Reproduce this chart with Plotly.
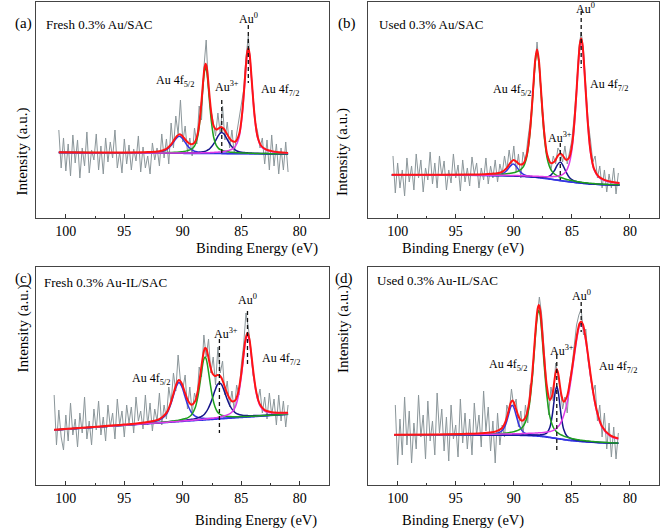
import plotly.graph_objects as go

FONT = "Liberation Serif, Times New Roman, serif"

PANEL_LETTERS = ["(a)", "(b)", "(c)", "(d)"]
PANEL_TITLES = ["Fresh 0.3% Au/SAC", "Used 0.3% Au/SAC", "Fresh 0.3% Au-IL/SAC", "Used 0.3% Au-IL/SAC"]
TICKS = [100, 95, 90, 85, 80]
MINOR_TICKS = [97.5, 92.5, 87.5, 82.5]
LBL_52 = "Au 4f<sub>5/2</sub>"
LBL_72 = "Au 4f<sub>7/2</sub>"
LBL_AU3 = "Au<sup>3+</sup>"
LBL_AU0 = "Au<sup>0</sup>"

# ---------------- raw (measured) spectra, binding energy in eV ----------------
E_RAW = [101.0, 100.8, 100.6, 100.4, 100.2, 100.0, 99.8, 99.6, 99.4, 99.2,
         99.0, 98.8, 98.6, 98.4, 98.2, 98.0, 97.8, 97.6, 97.4, 97.2,
         97.0, 96.8, 96.6, 96.4, 96.2, 96.0, 95.8, 95.6, 95.4, 95.2,
         95.0, 94.8, 94.6, 94.4, 94.2, 94.0, 93.8, 93.6, 93.4, 93.2,
         93.0, 92.8, 92.6, 92.4, 92.2, 92.0, 91.8, 91.6, 91.4, 91.2,
         91.0, 90.8, 90.6, 90.4, 90.2, 90.0, 89.8, 89.6, 89.4, 89.2,
         89.0, 88.8, 88.6, 88.4, 88.2, 88.0, 87.8, 87.6, 87.4, 87.2,
         87.0, 86.8, 86.6, 86.4, 86.2, 86.0, 85.8, 85.6, 85.4, 85.2,
         85.0, 84.8, 84.6, 84.4, 84.2, 84.0, 83.8, 83.6, 83.4, 83.2,
         83.0, 82.8, 82.6, 82.4, 82.2, 82.0, 81.8, 81.6, 81.4, 81.2,
         81.0]

RAW_A = [None, None, 88, 50, 80, 47, 74, 42, 83, 55,
         78, 40, 70, 52, 86, 45, 68, 58, 84, 48,
         72, 44, 80, 56, 76, 60, 88, 50, 66, 45,
         79, 54, 73, 48, 69, 57, 82, 46, 71, 50,
         62, 44, 75, 58, 70, 52, 84, 60, 79, 54,
         95, 70, 102, 84, 118, 76, 92, 66, 80, 62,
         90, 74, 112, 98, 150, 178, 128, 108, 96, 82,
         105, 84, 112, 78, 96, 70, 88, 64, 84, 98,
         112, 128, 160, 182, 150, 118, 96, 86, 70, 80,
         54, 78, 48, 83, 52, 74, 44, 70, 48, 76,
         46]

RAW_B = [None, None, None, 62, 25, 55, 30, 48, 22, 60,
         36, 52, 28, 64, 40, 58, 26, 50, 38, 66,
         34, 55, 30, 62, 42, 57, 28, 48, 35, 64,
         40, 53, 27, 58, 36, 50, 32, 61, 44, 55,
         30, 50, 38, 60, 34, 52, 40, 58, 36, 54,
         44, 62, 48, 68, 52, 72, 46, 64, 40, 66,
         56, 78, 95, 118, 150, 176, 150, 118, 92, 66,
         60, 48, 62, 54, 70, 66, 56, 72, 54, 66,
         78, 102, 130, 170, 186, 168, 130, 96, 78, 56,
         62, 40, 52, 30, 48, 26, 44, 30, 50, 24,
         45]

RAW_C = [90, 40, 75, 48, 35, 70, 44, 82, 50, 66,
         38, 72, 52, 88, 46, 64, 40, 76, 55, 84,
         50, 68, 44, 80, 58, 72, 46, 86, 60, 74,
         48, 80, 62, 78, 52, 88, 64, 74, 56, 90,
         60, 82, 54, 76, 64, 92, 60, 80, 66, 98,
         82, 112, 94, 130, 104, 96, 110, 76, 98, 72,
         92, 84, 118, 108, 150, 128, 146, 112, 128, 100,
         138, 112, 124, 90, 104, 78, 94, 74, 100, 90,
         120, 140, 172, 158, 138, 110, 100, 84, 96, 72,
         88, 66, 92, 70, 86, 60, 90, 64, 84, 58,
         80]

RAW_D = [None, None, None, None, 80, 20, 66, 30, 88, 40,
         74, 22, 62, 36, 90, 48, 70, 26, 84, 44,
         64, 30, 92, 52, 76, 34, 68, 24, 80, 46,
         60, 28, 86, 42, 72, 36, 66, 30, 82, 50,
         70, 38, 94, 54, 78, 34, 64, 22, 72, 40,
         60, 48, 80, 72, 96, 78, 86, 58, 74, 50,
         80, 62, 100, 104, 146, 168, 188, 170, 132, 104,
         70, 98, 84, 122, 110, 96, 76, 88, 72, 104,
         118, 140, 160, 170, 176, 150, 156, 124, 110, 92,
         100, 64, 80, 48, 72, 36, 62, 28, 58, 26,
         52]

# ---------------- fitted curves (heights above background) ----------------
# panel (a)
FIT_E_A = [100.6, 98, 95, 93, 92, 91.4, 91.0, 90.7, 90.5, 90.3, 90.1, 89.9, 89.6, 89.3, 89.0,
           88.75, 88.55, 88.4, 88.25, 88.15, 88.05, 87.95, 87.85, 87.7, 87.55, 87.35, 87.15,
           86.95, 86.8, 86.67, 86.5, 86.3, 86.05, 85.8, 85.5, 85.2, 84.95, 84.75, 84.6, 84.5,
           84.4, 84.3, 84.2, 84.05, 83.85, 83.6, 83.3, 82.9, 82.4, 81.8, 81.0]
BG_A = [65.5, 65.3, 65.05, 64.9, 64.8, 64.8, 64.75, 64.7, 64.7, 64.7, 64.7, 64.65, 64.65, 64.6, 64.6,
        64.6, 64.55, 64.55, 64.55, 64.5, 64.5, 64.5, 64.5, 64.5, 64.5, 64.5, 64.45,
        64.45, 64.45, 64.4, 64.4, 64.4, 64.4, 64.35, 64.35, 64.3, 64.3, 64.3, 64.3, 64.3,
        64.3, 64.25, 64.25, 64.25, 64.2, 64.2, 64.2, 64.15, 64.1, 64.05, 64.0]
AU3_52_A = [0.03, 0.06, 0.13, 0.46, 1.15, 3.4, 7.7, 12.7, 15.7, 17, 15.7, 12.7, 7.7, 4.2, 2.2,
            1.45, 1.1, 0.92, 0.78, 0.72, 0.65, 0.6, 0.56, 0.5, 0.45, 0.39, 0.35,
            0.31, 0.28, 0.26, 0.24, 0.22, 0.19, 0.17, 0.15, 0.14, 0.12, 0.12, 0.11, 0.11,
            0.1, 0.1, 0.1, 0.09, 0.085, 0.08, 0.07, 0.065, 0.057, 0.05, 0.04]
AU3_72_A = [0.02, 0.03, 0.06, 0.11, 0.15, 0.19, 0.23, 0.27, 0.29, 0.33, 0.36, 0.41, 0.49, 0.6, 0.76,
            0.95, 1.15, 1.38, 1.7, 2.0, 2.37, 2.84, 3.5, 4.8, 6.65, 9.9, 14.0,
            18.1, 20.3, 21, 19.8, 16.3, 11.1, 6.8, 3.6, 2.0, 1.4, 1.1, 0.95, 0.86,
            0.8, 0.74, 0.68, 0.6, 0.53, 0.45, 0.38, 0.3, 0.24, 0.18, 0.14]
AU0_52_A = [0.04, 0.07, 0.14, 0.28, 0.44, 0.6, 0.78, 0.96, 1.12, 1.32, 1.58, 1.92, 2.7, 4.0, 7.3,
            15.7, 31.3, 49.6, 70.6, 81.7, 86, 81.7, 70.6, 49.6, 31.3, 15.7, 8.4,
            5.2, 4.0, 3.4, 2.7, 2.1, 1.65, 1.32, 1.03, 0.83, 0.7, 0.62, 0.57, 0.54,
            0.51, 0.48, 0.46, 0.43, 0.39, 0.34, 0.3, 0.26, 0.21, 0.18, 0.14]
AU0_72_A = [0.03, 0.05, 0.08, 0.13, 0.16, 0.19, 0.21, 0.23, 0.25, 0.27, 0.29, 0.31, 0.35, 0.39, 0.44,
            0.49, 0.54, 0.59, 0.63, 0.66, 0.7, 0.74, 0.79, 0.86, 0.95, 1.08, 1.24,
            1.45, 1.6, 1.8, 2.1, 2.5, 3.2, 4.4, 7.3, 15.9, 35.7, 63.4, 87.2, 99.3,
            104, 99.3, 87.2, 63.4, 35.7, 15.9, 7.3, 3.9, 2.25, 1.35, 0.8]

# panel (b)
FIT_E_B = [100.5, 97, 94, 92.5, 91.6, 91.0, 90.6, 90.3, 90.05, 89.8, 89.5, 89.2, 88.9, 88.65, 88.45,
           88.3, 88.15, 88.0, 87.85, 87.7, 87.55, 87.35, 87.1, 86.8, 86.5, 86.25, 86.0, 85.75,
           85.5, 85.25, 85.0, 84.8, 84.6, 84.45, 84.3, 84.2, 84.1, 83.95, 83.8, 83.6, 83.4,
           83.1, 82.7, 82.2, 81.5, 80.9]
BG_B = [43, 43, 42.8, 42.6, 42.4, 42.3, 42.2, 42.1, 42, 41.9, 41.7, 41.5, 41.3, 41.1, 40.9,
        40.8, 40.7, 40.5, 40.3, 40.1, 39.9, 39.6, 39.2, 38.7, 38.2, 37.8, 37.4, 37.0,
        36.6, 36.2, 35.9, 35.6, 35.3, 35.1, 34.9, 34.8, 34.7, 34.5, 34.4, 34.2, 34.0,
        33.8, 33.5, 33.3, 33.1, 33.0]
AU3_52_B = [0.01, 0.03, 0.09, 0.24, 0.58, 1.8, 5.3, 9.8, 12, 9.8, 5.3, 2.4, 1.1, 0.71, 0.54,
            0.46, 0.39, 0.34, 0.29, 0.26, 0.23, 0.2, 0.17, 0.14, 0.12, 0.1, 0.09, 0.08,
            0.07, 0.065, 0.06, 0.055, 0.05, 0.05, 0.045, 0.045, 0.043, 0.04, 0.04, 0.036, 0.034,
            0.031, 0.028, 0.024, 0.02, 0.018]
AU3_72_B = [0.01, 0.02, 0.04, 0.05, 0.07, 0.09, 0.11, 0.12, 0.14, 0.16, 0.19, 0.22, 0.27, 0.32, 0.37,
            0.42, 0.48, 0.54, 0.63, 0.74, 0.89, 1.17, 1.9, 4.2, 9.25, 15.2, 18.5, 15.2,
            9.25, 4.8, 2.4, 1.54, 1.1, 0.89, 0.74, 0.67, 0.6, 0.52, 0.45, 0.38, 0.33,
            0.27, 0.21, 0.16, 0.11, 0.09]
AU0_52_B = [0.09, 0.17, 0.39, 0.69, 1.08, 1.54, 2.03, 2.58, 3.2, 4.1, 5.8, 9.3, 18.9, 39.1, 66.8,
            92.7, 116, 126, 116, 92.7, 66.8, 39.1, 18.9, 9.3, 5.8, 4.35, 3.4, 2.7,
            2.2, 1.83, 1.54, 1.36, 1.2, 1.1, 1.02, 0.97, 0.92, 0.86, 0.8, 0.72, 0.66,
            0.58, 0.5, 0.42, 0.34, 0.28]
AU0_72_B = [0.07, 0.11, 0.19, 0.26, 0.32, 0.38, 0.43, 0.48, 0.52, 0.57, 0.63, 0.71, 0.8, 0.89, 0.98,
            1.05, 1.13, 1.22, 1.32, 1.43, 1.56, 1.76, 2.07, 2.55, 3.2, 4.0, 5.15, 6.9,
            10.0, 17.2, 32.2, 55.6, 89.5, 117.3, 138.3, 143, 138.3, 117.3, 89.5, 55.6, 32.2,
            14.7, 7.3, 4.2, 2.4, 1.6]

# panel (c)
FIT_E_C = [101, 98, 95, 93, 92, 91.4, 91.0, 90.8, 90.55, 90.33, 90.1, 89.85, 89.55, 89.25, 88.95,
           88.7, 88.5, 88.35, 88.2, 88.1, 88.0, 87.85, 87.65, 87.45, 87.25, 87.05, 86.87, 86.7,
           86.5, 86.25, 86.0, 85.75, 85.5, 85.25, 85.0, 84.8, 84.65, 84.47, 84.3, 84.15, 83.95,
           83.7, 83.4, 83.0, 82.5, 81.8, 81.0]
BG_C = [55.0, 57.4, 59.7, 61.3, 62.1, 62.5, 62.9, 63.0, 63.2, 63.4, 63.6, 63.8, 64.0, 64.2, 64.5,
        64.7, 64.8, 64.9, 65.0, 65.1, 65.2, 65.3, 65.5, 65.6, 65.8, 65.95, 66.1, 66.2,
        66.4, 66.6, 66.8, 67.0, 67.2, 67.4, 67.6, 67.7, 67.8, 68.0, 68.1, 68.2, 68.4,
        68.6, 68.8, 69.1, 69.5, 70.1, 70.7]
AU3_52_C = [0.07, 0.14, 0.37, 1.1, 2.8, 8.2, 18.8, 26.4, 35.5, 39, 35.2, 26.0, 15.2, 8.1, 4.4,
            2.9, 2.3, 1.9, 1.66, 1.52, 1.4, 1.25, 1.08, 0.95, 0.83, 0.74, 0.66, 0.6,
            0.55, 0.48, 0.43, 0.39, 0.35, 0.31, 0.29, 0.27, 0.26, 0.24, 0.23, 0.22, 0.21,
            0.2, 0.18, 0.16, 0.15, 0.13, 0.11]
AU3_72_C = [0.04, 0.07, 0.13, 0.23, 0.33, 0.42, 0.5, 0.55, 0.63, 0.71, 0.81, 0.94, 1.15, 1.44, 1.87,
            2.45, 3.2, 4.1, 5.2, 6.5, 7.9, 10.7, 15.6, 21.9, 28.6, 34.3, 36, 34.5,
            28.9, 20.5, 13.2, 8.1, 5.0, 3.3, 2.3, 1.88, 1.66, 1.4, 1.24, 1.12, 0.98,
            0.84, 0.7, 0.57, 0.45, 0.34, 0.25]
AU0_52_C = [0.05, 0.08, 0.16, 0.33, 0.51, 0.71, 0.91, 1.05, 1.26, 1.51, 1.85, 2.4, 3.4, 6.0, 12.4,
            24.5, 39.4, 51.7, 60.9, 63, 60.9, 51.7, 35.4, 21.5, 12.4, 7.3, 4.9, 3.7,
            2.8, 2.1, 1.7, 1.37, 1.12, 0.94, 0.8, 0.71, 0.65, 0.59, 0.54, 0.5, 0.45,
            0.4, 0.35, 0.3, 0.25, 0.2, 0.16]
AU0_72_C = [0.04, 0.06, 0.1, 0.15, 0.2, 0.23, 0.26, 0.28, 0.3, 0.33, 0.35, 0.39, 0.43, 0.49, 0.55,
            0.62, 0.68, 0.73, 0.8, 0.84, 0.89, 0.96, 1.09, 1.23, 1.41, 1.63, 1.86, 2.15,
            2.6, 3.3, 4.4, 6.6, 11.2, 21.6, 40.6, 60.9, 74.5, 82, 75.3, 61.5, 41.4,
            22.1, 10.4, 4.8, 2.7, 1.53, 0.92]

# panel (d)
FIT_E_D = [100.3, 97, 94, 92.5, 91.6, 91.0, 90.7, 90.45, 90.25, 90.13, 90.0, 89.8, 89.55, 89.3, 89.0,
           88.7, 88.45, 88.25, 88.1, 87.95, 87.85, 87.75, 87.6, 87.4, 87.15, 86.9, 86.7, 86.55,
           86.42, 86.3, 86.18, 86.05, 85.9, 85.7, 85.45, 85.2, 84.95, 84.7, 84.5, 84.35, 84.2,
           84.05, 83.85, 83.6, 83.3, 82.9, 82.4, 81.7, 81.0]
BG_D = [50.0, 50.0, 50.0, 50.0, 49.9, 49.9, 49.9, 49.8, 49.8, 49.8, 49.8, 49.7, 49.7, 49.6, 49.5,
        49.4, 49.2, 49.1, 49.0, 48.9, 48.8, 48.7, 48.5, 48.3, 47.9, 47.5, 47.1, 46.8,
        46.6, 46.4, 46.2, 46.0, 45.7, 45.4, 45.0, 44.6, 44.3, 44.0, 43.8, 43.6, 43.5,
        43.4, 43.2, 43.0, 42.8, 42.5, 42.2, 41.9, 41.7]
AU3_52_D = [0.03, 0.06, 0.2, 0.52, 1.29, 4.3, 10.7, 20.5, 28.5, 30, 27.9, 20.0, 10.4, 4.8, 2.2,
            1.38, 1.0, 0.81, 0.7, 0.62, 0.56, 0.52, 0.46, 0.4, 0.33, 0.29, 0.25, 0.24,
            0.23, 0.2, 0.2, 0.19, 0.18, 0.17, 0.16, 0.15, 0.14, 0.13, 0.12, 0.12, 0.11,
            0.11, 0.1, 0.1, 0.09, 0.08, 0.07, 0.06, 0.05]
AU3_72_D = [0.02, 0.03, 0.05, 0.08, 0.11, 0.14, 0.16, 0.18, 0.2, 0.22, 0.23, 0.26, 0.3, 0.35, 0.43,
            0.54, 0.67, 0.8, 0.95, 1.12, 1.27, 1.43, 1.76, 2.45, 4.2, 10.0, 21.8, 35.5,
            47.2, 52, 47.2, 35.5, 21.8, 10.0, 4.2, 2.45, 1.64, 1.18, 0.95, 0.8, 0.7,
            0.61, 0.52, 0.43, 0.35, 0.27, 0.21, 0.15, 0.11]
AU0_52_D = [0.11, 0.21, 0.46, 0.79, 1.21, 1.7, 2.07, 2.46, 2.86, 3.2, 3.5, 4.26, 5.5, 7.7, 13.4,
            27.6, 52.9, 82.0, 105.2, 122.2, 126, 122.2, 105.2, 74.1, 41.0, 21.2, 13.4, 9.7,
            7.8, 6.6, 5.8, 4.9, 4.26, 3.5, 2.86, 2.4, 2.0, 1.7, 1.51, 1.39, 1.28,
            1.18, 1.07, 0.95, 0.83, 0.7, 0.58, 0.46, 0.37]
AU0_72_D = [0.18, 0.29, 0.49, 0.69, 0.86, 1.02, 1.11, 1.2, 1.28, 1.33, 1.39, 1.49, 1.63, 1.79, 2.0,
            2.25, 2.55, 2.78, 2.99, 3.22, 3.4, 3.58, 3.85, 4.3, 5.0, 6.0, 7.0, 8.1,
            9.2, 10.5, 12.2, 14.4, 17.9, 24.3, 35.4, 51.4, 71.4, 92.6, 107.6, 115.4, 118,
            115.4, 104.4, 84.5, 59.0, 33.0, 15.5, 7.0, 4.3]

# peak positions (eV) marked by dashed lines: [Au0, Au3+]
PEAK_AU0 = [84.4, 84.2, 84.47, 84.2]
PEAK_AU3 = [86.67, 86.0, 86.87, 86.3]

RAW = [RAW_A, RAW_B, RAW_C, RAW_D]
FIT_E = [FIT_E_A, FIT_E_B, FIT_E_C, FIT_E_D]
BG = [BG_A, BG_B, BG_C, BG_D]
COMPS = [[AU3_52_A, AU3_72_A, AU0_52_A, AU0_72_A],
         [AU3_52_B, AU3_72_B, AU0_52_B, AU0_72_B],
         [AU3_52_C, AU3_72_C, AU0_52_C, AU0_72_C],
         [AU3_52_D, AU3_72_D, AU0_52_D, AU0_72_D]]

# ---------------- layout / style (not data) ----------------
X_DOM = [[0.0544, 0.4970], [0.5559, 0.9955], [0.0544, 0.4970], [0.5559, 0.9955]]
Y_DOM = [[0.5887, 0.9962], [0.5887, 0.9962], [0.0849, 0.4962], [0.0849, 0.4962]]
Y_TOP = [216, 216, 218, 218]
X_RANGE = [102.55, 77.5]
DASH_AU0 = [[193, 135], [207, 150], [174, 119], [183, 153]]
DASH_AU3 = [[118, 62], [75, 38], [146, 52], [130, 35]]
POS_52 = [(90.7, 137), (90.18, 128), (92.76, 106), (90.47, 120)]
POS_72 = [(81.7, 128), (81.8, 133), (81.64, 126), (81.02, 118)]
POS_AU3 = [(86.24, 132), (86.0, 80), (86.31, 152), (85.86, 135)]
POS_AU0 = [(84.4, 200), (83.85, 210), (84.47, 186), (84.21, 190)]
LETTER_PX = [(13, 13), (347, 13), (13, 278), (344, 278)]
TITLE_PX = [(44, 15), (377, 15), (42, 282), (375, 280)]
YTITLE_PX = [(12, 106), (343, 106), (12, 375), (343, 375)]
# x-title: centre x in px, bottom edge of text box in px
XTITLE_PX = [(195, 258), (525, 258), (194, 530), (525, 530)]

COMP_COLORS = ["#3535e0", "#14148a", "#1ea01e", "#e03ce6"]
W, H = 662, 530


def px(xp, yp):
    return xp / W, 1 - yp / H


fig = go.Figure()
annotations = []
layout = {}

for i in range(4):
    n = "" if i == 0 else str(i + 1)
    xa, ya = "x" + n, "y" + n

    fig.add_trace(go.Scatter(x=E_RAW, y=RAW[i], mode="lines", xaxis=xa, yaxis=ya,
                             line=dict(color="#8b969a", width=1), showlegend=False))
    fig.add_trace(go.Scatter(x=FIT_E[i], y=BG[i], mode="lines", xaxis=xa, yaxis=ya,
                             line=dict(color="#2e2ee6", width=1.6, shape="spline"), showlegend=False))
    for comp, col in zip(COMPS[i], COMP_COLORS):
        yy = [b + c for b, c in zip(BG[i], comp)]
        fig.add_trace(go.Scatter(x=FIT_E[i], y=yy, mode="lines", xaxis=xa, yaxis=ya,
                                 line=dict(color=col, width=1.5, shape="spline"), showlegend=False))
    env = [b + sum(cs) for b, cs in zip(BG[i], zip(*COMPS[i]))]
    fig.add_trace(go.Scatter(x=FIT_E[i], y=env, mode="lines", xaxis=xa, yaxis=ya,
                             line=dict(color="#ff1414", width=2, shape="spline"), showlegend=False))
    for pos, dy in ((PEAK_AU0[i], DASH_AU0[i]), (PEAK_AU3[i], DASH_AU3[i])):
        fig.add_trace(go.Scatter(x=[pos, pos], y=dy, mode="lines", xaxis=xa, yaxis=ya,
                                 line=dict(color="#111111", width=1.3, dash="4px,3px"),
                                 showlegend=False))

    layout["xaxis" + n] = dict(domain=X_DOM[i], range=X_RANGE, anchor=ya, tickvals=TICKS,
                               ticks="inside", ticklen=4, tickwidth=1, tickcolor="#333",
                               minor=dict(tickvals=MINOR_TICKS, ticks="inside", ticklen=2,
                                          tickcolor="#333"),
                               showline=True, mirror=True, linecolor="#444", linewidth=1.3,
                               showgrid=False, zeroline=False,
                               tickfont=dict(family=FONT, size=14, color="black"))
    layout["yaxis" + n] = dict(domain=Y_DOM[i], range=[0, Y_TOP[i]], anchor=xa,
                               showline=True, mirror=True, linecolor="#444", linewidth=1.3,
                               showticklabels=False, ticks="", showgrid=False, zeroline=False)

    for txt, (lx, ly) in ((LBL_52, POS_52[i]), (LBL_72, POS_72[i]),
                          (LBL_AU3, POS_AU3[i]), (LBL_AU0, POS_AU0[i])):
        annotations.append(dict(x=lx, y=ly, xref=xa, yref=ya, text=txt, showarrow=False,
                                font=dict(family=FONT, size=12, color="black")))

    lx, ly = px(*LETTER_PX[i])
    annotations.append(dict(x=lx, y=ly, xref="paper", yref="paper", text=PANEL_LETTERS[i],
                            showarrow=False, font=dict(family=FONT, size=15, color="black")))
    tx, ty = px(*TITLE_PX[i])
    annotations.append(dict(x=tx, y=ty, xref="paper", yref="paper", text=PANEL_TITLES[i],
                            xanchor="left", showarrow=False,
                            font=dict(family=FONT, size=13, color="black")))
    yx, yy_ = px(*YTITLE_PX[i])
    annotations.append(dict(x=yx, y=yy_, xref="paper", yref="paper", text="Intensity (a.u.)",
                            textangle=-90, showarrow=False,
                            font=dict(family=FONT, size=15, color="black")))
    xx, xy = px(*XTITLE_PX[i])
    annotations.append(dict(x=xx, y=xy, xref="paper", yref="paper", text="Binding Energy (eV)",
                            yanchor="bottom", showarrow=False, borderpad=0,
                            font=dict(family=FONT, size=14.5, color="black")))

fig.update_layout(width=W, height=H, autosize=False, margin=dict(l=0, r=0, t=0, b=0),
                  paper_bgcolor="white", plot_bgcolor="white", annotations=annotations,
                  font=dict(family=FONT, color="black"), **layout)

fig.write_html("out.html", config={"displayModeBar": False},
               post_script="document.body.style.margin='0';document.body.style.overflow='hidden';")
